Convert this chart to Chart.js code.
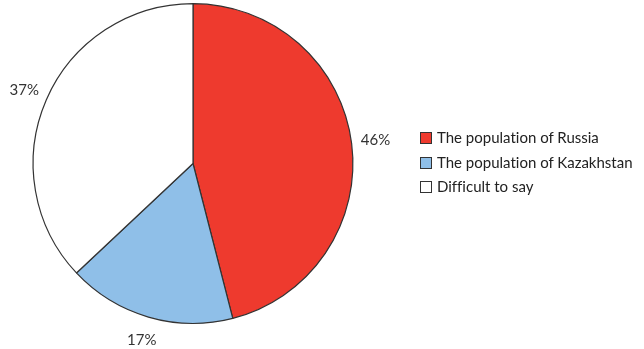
<!DOCTYPE html>
<html>
<head>
<meta charset="utf-8">
<script src="https://cdn.jsdelivr.net/npm/chart.js@4"></script>
<style>
  html, body { margin: 0; padding: 0; background: #fff; }
  #wrap { position: relative; width: 644px; height: 349px; }
  #legend { position: absolute; left: 420px; top: 126px; font-family: Lato, "Noto Sans", sans-serif; font-size: 15px; color: #222; font-variant-ligatures: none; }
  #legend div { height: 24.5px; line-height: 22px; white-space: nowrap; }
  #legend span.box { display: inline-block; width: 10px; height: 10px; border: 1px solid #333; margin-right: 5px; vertical-align: -1px; }
</style>
</head>
<body>
<div id="wrap">
  <canvas id="pie" width="644" height="349"></canvas>
  <div id="legend"></div>
</div>
<script>
var labels = ["The population of Russia", "The population of Kazakhstan", "Difficult to say"];
var values = [46, 17, 37];
var colors = ["#ee3a2e", "#8fbfe8", "#ffffff"];

// percent labels placed outside each slice
var outsideLabels = {
    id: 'outsideLabels',
    afterDatasetsDraw: function(chart) {
        var ctx = chart.ctx;
        var meta = chart.getDatasetMeta(0);
        ctx.save();
        ctx.font = '15px Lato, "Noto Sans", sans-serif';
        ctx.fillStyle = '#333';
        ctx.textAlign = 'center';
        ctx.textBaseline = 'middle';
        meta.data.forEach(function(arc, i) {
            var mid = (arc.startAngle + arc.endAngle) / 2;
            var r = arc.outerRadius + 24;
            ctx.fillText(values[i] + '%', arc.x + Math.cos(mid) * r, arc.y + Math.sin(mid) * r);
        });
        ctx.restore();
    }
};

new Chart(document.getElementById('pie'), {
    type: 'pie',
    data: {
        labels: labels,
        datasets: [{
            data: values,
            backgroundColor: colors,
            borderColor: '#333',
            borderWidth: 1.2
        }]
    },
    options: {
        responsive: false,
        animation: false,
        layout: { padding: { top: 3, bottom: 25, left: 0, right: 258 } },
        plugins: {
            legend: { display: false },
            tooltip: { enabled: false }
        }
    },
    plugins: [outsideLabels]
});

var lg = document.getElementById('legend');
labels.forEach(function(l, i) {
    var row = document.createElement('div');
    row.innerHTML = '<span class="box" style="background:' + colors[i] + '"></span>' + l;
    lg.appendChild(row);
});
</script>
</body>
</html>
